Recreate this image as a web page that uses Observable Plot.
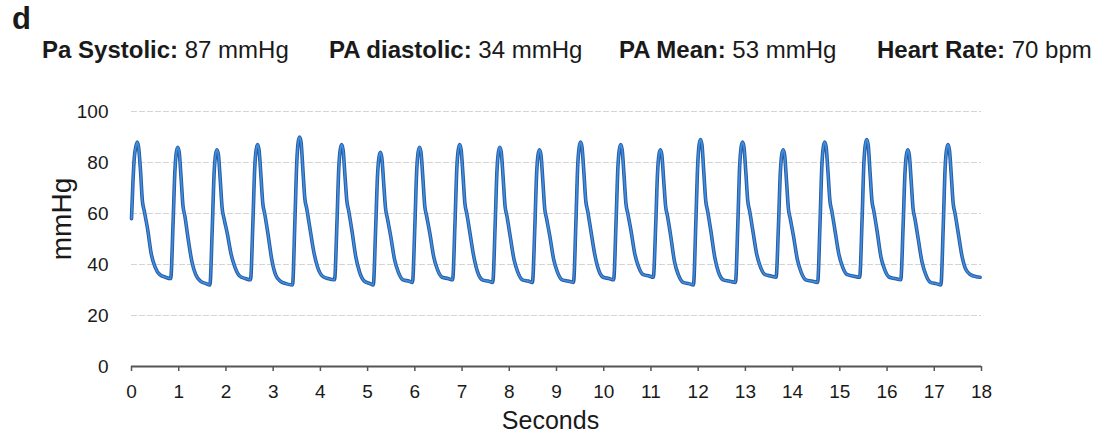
<!DOCTYPE html>
<html>
<head>
<meta charset="utf-8">
<script src="https://cdn.jsdelivr.net/npm/d3@7"></script>
<script src="https://cdn.jsdelivr.net/npm/@observablehq/plot@0.6"></script>
<style>
  html, body { margin: 0; padding: 0; background: #fff; }
  #wrap { position: relative; width: 1109px; height: 439px; font-family: "Liberation Sans", Arial, sans-serif; color: #1a1a1a; }
  .panel { position: absolute; left: 12px; top: 1px; font-size: 31px; font-weight: bold; }
  .stat { position: absolute; top: 36px; font-size: 24px; white-space: nowrap; }
  .stat b { font-weight: bold; }
  #chart { position: absolute; left: 0; top: 0; }
</style>
</head>
<body>
<div id="wrap">
  <div id="chart"></div>
  <div class="panel">d</div>
  <div id="stats"></div>
</div>
<script>
const panelLabel = "d";
const statLabels = ["Pa Systolic:", "PA diastolic:", "PA Mean:", "Heart Rate:"];
const statValues = ["87 mmHg", "34 mmHg", "53 mmHg", "70 bpm"];
const statLeft = [42, 329, 619, 877];

const xTicks = [0,1,2,3,4,5,6,7,8,9,10,11,12,13,14,15,16,17,18];
const yTicks = [0,20,40,60,80,100];
const gridLevels = [20,40,60,80,100];
const yLabel = "mmHg";
const xLabel = "Seconds";

// Pulmonary artery pressure trace (seconds, mmHg)
const seconds = [
  0, 0.03, 0.06, 0.09, 0.12, 0.15, 0.19, 0.23, 0.27, 0.34, 0.42, 0.50, 0.60, 0.72,
  0.83, 0.88, 0.92, 0.95, 0.98, 1.01, 1.05, 1.09, 1.13, 1.20, 1.28, 1.36, 1.46, 1.58,
  1.66, 1.71, 1.75, 1.78, 1.81, 1.84, 1.88, 1.92, 1.96, 2.03, 2.11, 2.19, 2.29, 2.41,
  2.52, 2.57, 2.61, 2.64, 2.67, 2.70, 2.74, 2.78, 2.82, 2.89, 2.97, 3.05, 3.15, 3.27,
  3.41, 3.46, 3.50, 3.53, 3.56, 3.59, 3.63, 3.67, 3.71, 3.78, 3.86, 3.94, 4.04, 4.16,
  4.30, 4.35, 4.39, 4.42, 4.45, 4.48, 4.52, 4.56, 4.60, 4.67, 4.75, 4.83, 4.93, 5.05,
  5.12, 5.17, 5.21, 5.24, 5.27, 5.30, 5.34, 5.38, 5.42, 5.49, 5.57, 5.65, 5.75, 5.87,
  5.95, 6.00, 6.04, 6.07, 6.10, 6.13, 6.17, 6.21, 6.25, 6.32, 6.40, 6.48, 6.58, 6.70,
  6.80, 6.85, 6.89, 6.92, 6.95, 6.98, 7.02, 7.06, 7.10, 7.17, 7.25, 7.33, 7.43, 7.55,
  7.65, 7.70, 7.74, 7.77, 7.80, 7.83, 7.87, 7.91, 7.95, 8.02, 8.10, 8.18, 8.28, 8.40,
  8.49, 8.54, 8.58, 8.61, 8.64, 8.67, 8.71, 8.75, 8.79, 8.86, 8.94, 9.02, 9.12, 9.24,
  9.36, 9.41, 9.45, 9.48, 9.51, 9.54, 9.58, 9.62, 9.66, 9.73, 9.81, 9.89, 9.99, 10.11,
  10.21, 10.26, 10.30, 10.33, 10.36, 10.39, 10.43, 10.47, 10.51, 10.58, 10.66, 10.74, 10.84, 10.96,
  11.05, 11.10, 11.14, 11.17, 11.20, 11.23, 11.27, 11.31, 11.35, 11.42, 11.50, 11.58, 11.68, 11.80,
  11.90, 11.95, 11.99, 12.02, 12.05, 12.08, 12.12, 12.16, 12.20, 12.27, 12.35, 12.43, 12.53, 12.65,
  12.79, 12.84, 12.88, 12.91, 12.94, 12.97, 13.01, 13.05, 13.09, 13.16, 13.24, 13.32, 13.42, 13.54,
  13.65, 13.70, 13.74, 13.77, 13.80, 13.83, 13.87, 13.91, 13.95, 14.02, 14.10, 14.18, 14.28, 14.40,
  14.53, 14.58, 14.62, 14.65, 14.68, 14.71, 14.75, 14.79, 14.83, 14.90, 14.98, 15.06, 15.16, 15.28,
  15.42, 15.47, 15.51, 15.54, 15.57, 15.60, 15.64, 15.68, 15.72, 15.79, 15.87, 15.95, 16.05, 16.17,
  16.29, 16.34, 16.38, 16.41, 16.44, 16.47, 16.51, 16.55, 16.59, 16.66, 16.74, 16.82, 16.92, 17.04,
  17.14, 17.19, 17.23, 17.26, 17.29, 17.32, 17.36, 17.40, 17.44, 17.51, 17.59, 17.67, 17.77, 17.89, 17.97
];
const mmHg = [
  58, 72, 82, 86, 88, 86, 77, 65, 61, 54, 44, 39, 36, 35,
  34.5, 56, 77, 84, 86, 84, 74, 63, 59, 50, 41, 36, 33.5, 32.5,
  32, 54, 76, 83, 85, 83, 73, 62, 58, 52, 44, 39, 35.5, 34.5,
  34, 56, 78, 85, 87, 85, 75, 64, 60, 52, 42, 36, 33.5, 32.5,
  32, 57, 80, 88, 90, 88, 77, 66, 62, 54, 45, 39, 35.5, 34.5,
  34, 56, 78, 85, 87, 85, 75, 65, 61, 53, 43, 37, 33.5, 32.5,
  32, 54, 75, 82, 84, 82, 72, 62, 58, 51, 42, 37, 34, 33.5,
  33, 55, 77, 84, 86, 84, 74, 63, 59, 52, 43, 38, 35, 34.5,
  34, 56, 78, 85, 87, 85, 75, 64, 60, 52, 43, 37, 34, 33.5,
  33, 55, 77, 84, 86, 84, 74, 63, 59, 51, 42, 37, 34, 33.5,
  33, 54, 76, 83, 85, 83, 73, 62, 58, 51, 42, 37, 34, 33.5,
  33, 56, 79, 86, 88, 86, 76, 65, 61, 53, 44, 38, 35, 34.5,
  34, 56, 78, 85, 87, 85, 75, 64, 60, 53, 44, 39, 36, 35.5,
  35, 55, 76, 83, 85, 83, 73, 63, 59, 51, 41, 36, 33, 32.5,
  32, 56, 79, 87, 89, 87, 76, 65, 61, 53, 43, 37, 34, 33.5,
  33, 56, 79, 86, 88, 86, 76, 65, 61, 53, 44, 39, 36, 35.5,
  35, 55, 76, 83, 85, 83, 73, 62, 58, 51, 42, 37, 34, 33.5,
  33, 56, 79, 86, 88, 86, 76, 65, 61, 53, 44, 39, 36, 35.5,
  35, 57, 80, 87, 89, 87, 76, 65, 61, 53, 43, 38, 35, 34.5,
  34, 55, 76, 83, 85, 83, 73, 62, 58, 50, 41, 36, 33, 32.5,
  32, 55, 78, 85, 87, 85, 75, 64, 60, 52, 43, 38, 36, 35.2, 35
];

const trace = seconds.map((t, i) => ({t, p: mmHg[i]}));

// Stats line
const statsDiv = document.getElementById("stats");
statLabels.forEach((lab, i) => {
  const s = document.createElement("div");
  s.className = "stat";
  s.style.left = statLeft[i] + "px";
  s.innerHTML = "<b>" + lab + "</b> " + statValues[i];
  statsDiv.appendChild(s);
});
document.querySelector(".panel").textContent = panelLabel;

const chart = Plot.plot({
  width: 1109,
  height: 439,
  marginLeft: 131,
  marginRight: 128,
  marginTop: 111,
  marginBottom: 73,
  style: {fontFamily: "Liberation Sans, Arial, sans-serif", fontSize: "19px", color: "#1a1a1a", background: "transparent"},
  x: {domain: [0, 18]},
  y: {domain: [0, 100]},
  marks: [
    Plot.ruleY(gridLevels, {stroke: "#d4d4d4", strokeWidth: 1.2, strokeDasharray: "6,2"}),
    Plot.axisY({ticks: yTicks, tickSize: 0, tickPadding: 23, label: null, fontSize: 19}),
    Plot.axisX({ticks: xTicks, tickSize: 5, tickPadding: 13, label: null, fontSize: 19, stroke: "#555", strokeWidth: 1.5}),
    Plot.ruleY([0], {stroke: "#555", strokeWidth: 1.8}),
    Plot.line(trace, {x: "t", y: "p", curve: "monotone-x", stroke: "#2a5a9e", strokeWidth: 3.6}),
    Plot.line(trace, {x: "t", y: "p", curve: "monotone-x", stroke: "#3d8de0", strokeWidth: 1.7}),
    Plot.text([yLabel], {frameAnchor: "left", textAnchor: "middle", rotate: -90, dx: -69, dy: -20, fontSize: 28, fill: "#1a1a1a"}),
    Plot.text([xLabel], {frameAnchor: "bottom", dx: -6, dy: 62, fontSize: 25, fill: "#1a1a1a"})
  ]
});
document.getElementById("chart").appendChild(chart);
</script>
</body>
</html>
